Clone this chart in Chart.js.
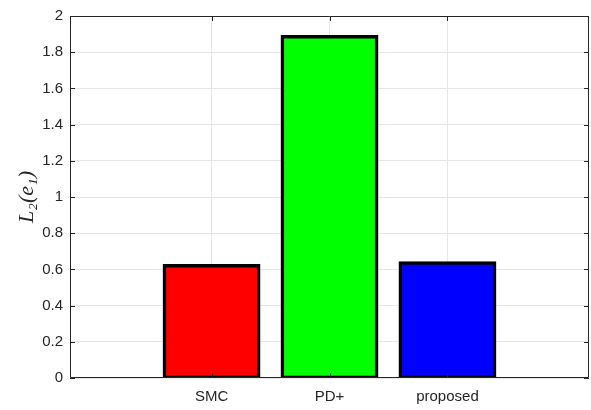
<!DOCTYPE html>
<html>
<head>
<meta charset="utf-8">
<script src="https://cdn.jsdelivr.net/npm/chart.js@4/dist/chart.umd.min.js"></script>
<style>
  html, body { margin: 0; padding: 0; background: #fff; }
  #wrap { width: 591px; height: 410px; }
</style>
</head>
<body>
<div id="wrap"><canvas id="c" width="591" height="410"></canvas></div>
<script>
// Controllers compared and their L2 error norms
const categories = ['SMC', 'PD+', 'proposed'];
const positions = [1, 2, 3];
const l2Values = [0.62, 1.885, 0.635];
const barColors = ['#ff0000', '#00ff00', '#0000ff'];
const yTicks = [0, 0.2, 0.4, 0.6, 0.8, 1, 1.2, 1.4, 1.6, 1.8, 2];

const axisColor = '#262626';
const gridColor = '#e6e6e6';

// Box around the plot area with short inward tick marks on all four sides
const boxPlugin = {
  id: 'boxAxes',
  afterDatasetsDraw(chart) {
    const { ctx, chartArea: a, scales } = chart;
    const t = 5;
    ctx.save();
    ctx.strokeStyle = axisColor;
    ctx.lineWidth = 1;
    ctx.beginPath();
    ctx.rect(Math.round(a.left) + 0.5, Math.round(a.top) + 0.5,
             Math.round(a.right - a.left) - 1, Math.round(a.bottom - a.top) - 1);
    ctx.stroke();
    ctx.beginPath();
    yTicks.forEach(v => {
      const y = Math.round(scales.y.getPixelForValue(v)) + 0.5;
      ctx.moveTo(a.left, y); ctx.lineTo(a.left + t, y);
      ctx.moveTo(a.right, y); ctx.lineTo(a.right - t, y);
    });
    positions.forEach(v => {
      const x = Math.round(scales.x.getPixelForValue(v)) + 0.5;
      ctx.moveTo(x, a.bottom); ctx.lineTo(x, a.bottom - t);
      ctx.moveTo(x, a.top); ctx.lineTo(x, a.top + t);
    });
    ctx.stroke();
    ctx.restore();
  }
};

new Chart(document.getElementById('c'), {
  type: 'bar',
  data: {
    datasets: [{
      data: positions.map((p, i) => ({ x: p, y: l2Values[i] })),
      backgroundColor: barColors,
      borderColor: '#000000',
      borderWidth: 3.5,
      borderSkipped: false,
      // grow each bar so its edge line straddles the bar boundary
      inflateAmount: 1.75,
      barPercentage: 0.8,
      categoryPercentage: 1.0
    }]
  },
  options: {
    responsive: false,
    animation: false,
    devicePixelRatio: 1,
    layout: { padding: { top: 11, right: 2, left: 0, bottom: 0 } },
    plugins: { legend: { display: false }, tooltip: { enabled: false } },
    scales: {
      x: {
        type: 'linear',
        offset: false,
        min: -0.2,
        max: 4.2,
        afterBuildTicks(scale) { scale.ticks = positions.map(v => ({ value: v })); },
        afterFit(scale) { scale.height = 32; },
        border: { display: false },
        grid: { color: gridColor, drawTicks: false, offset: false },
        ticks: {
          padding: 10,
          color: axisColor,
          font: { family: "'Liberation Sans', Arial, sans-serif", size: 15 },
          callback: v => categories[positions.indexOf(v)]
        }
      },
      y: {
        min: 0,
        max: 2,
        afterBuildTicks(scale) { scale.ticks = yTicks.map(v => ({ value: v })); },
        afterFit(scale) { scale.width = 70; },
        border: { display: false },
        grid: { color: gridColor, drawTicks: false },
        ticks: {
          padding: 7,
          color: axisColor,
          font: { family: "'Liberation Sans', Arial, sans-serif", size: 15 },
          callback: v => String(Math.round(v * 10) / 10)
        },
        title: {
          display: true,
          text: 'L₂(e₁)',
          color: axisColor,
          padding: { top: 14, bottom: 0 },
          font: { family: "'Liberation Serif', 'DejaVu Serif', serif", size: 22, style: 'italic' }
        }
      }
    }
  },
  plugins: [boxPlugin]
});
</script>
</body>
</html>
